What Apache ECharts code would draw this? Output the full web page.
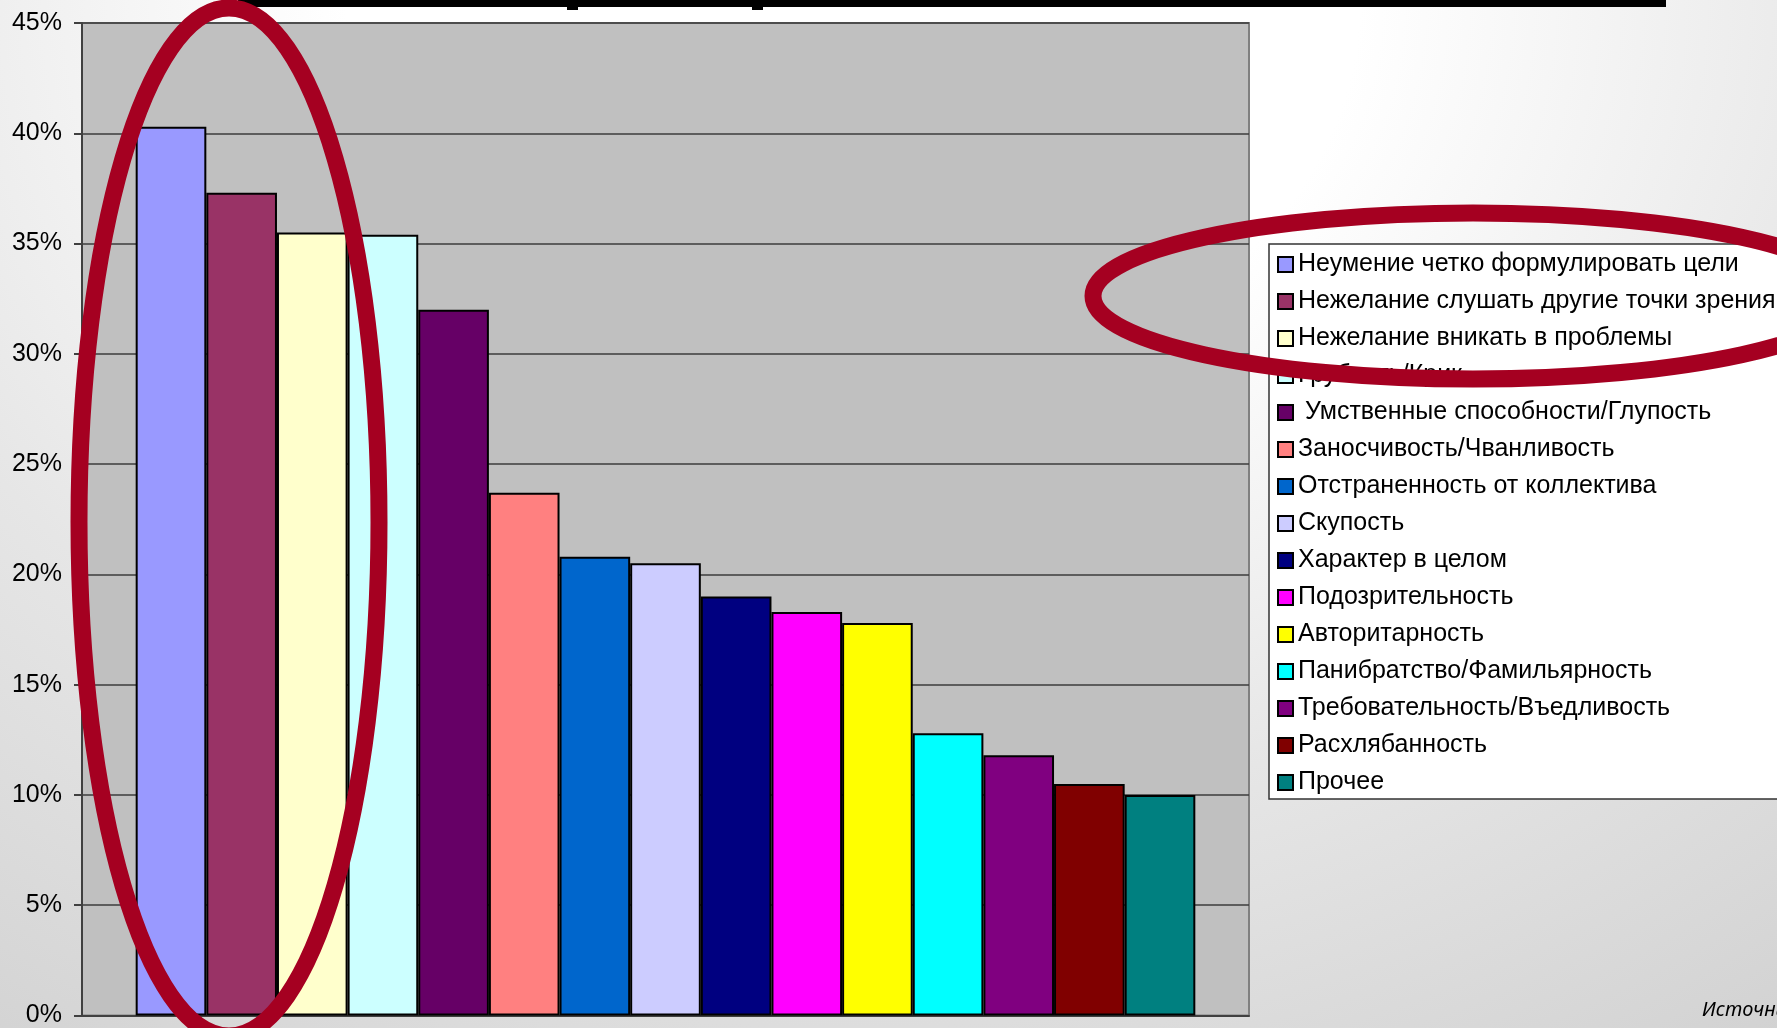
<!DOCTYPE html>
<html>
<head>
<meta charset="utf-8">
<script src="https://cdn.jsdelivr.net/npm/echarts@6/dist/echarts.min.js"></script>
<style>
  html, body { margin: 0; padding: 0; width: 1777px; height: 1028px; overflow: hidden; }
  body { background: radial-gradient(ellipse 95% 130% at 48% 0%, #ffffff 0%, #ffffff 30%, #e6e6e6 62%, #cfcfcf 100%); }
  #chart { width: 1777px; height: 1028px; }
</style>
</head>
<body>
<div id="chart"></div>
<script>
const categories = [
  'Неумение четко формулировать цели',
  'Нежелание слушать другие точки зрения',
  'Нежелание вникать в проблемы',
  'Грубость/Крик',
  ' Умственные способности/Глупость',
  'Заносчивость/Чванливость',
  'Отстраненность от коллектива',
  'Скупость',
  'Характер в целом',
  'Подозрительность',
  'Авторитарность',
  'Панибратство/Фамильярность',
  'Требовательность/Въедливость',
  'Расхлябанность',
  'Прочее'
];
const values = [40.3, 37.3, 35.5, 35.4, 32.0, 23.7, 20.8, 20.5, 19.0, 18.3, 17.8, 12.8, 11.8, 10.5, 10.0];
const colors = ['#9999ff', '#993366', '#ffffcc', '#ccffff', '#660066', '#ff8080', '#0066cc', '#ccccff',
                '#000080', '#ff00ff', '#ffff00', '#00ffff', '#800080', '#800000', '#008080'];
const yMin = 0, yMax = 45, yStep = 5;
const sourceText = 'Источник:';

const chart = echarts.init(document.getElementById('chart'), null, { renderer: 'canvas' });

const series = categories.map((name, i) => ({
  type: 'bar',
  name: name,
  data: [values[i]],
  barGap: '0%',
  barCategoryGap: '9.2%',
  itemStyle: { color: colors[i], borderColor: '#000', borderWidth: 2 },
  emphasis: { disabled: true },
  z: 2
}));

const option = {
  animation: false,
  backgroundColor: 'transparent',
  textStyle: { fontFamily: '"Liberation Sans", Arial, sans-serif' },
  grid: {
    left: 82, top: 23, width: 1167, height: 997,
    show: true, backgroundColor: '#c0c0c0', borderColor: '#808080', borderWidth: 2
  },
  xAxis: {
    type: 'category',
    data: [''],
    axisLine: { show: true, lineStyle: { color: '#404040', width: 2 } },
    axisTick: { show: false },
    axisLabel: { show: false },
    splitLine: { show: false }
  },
  yAxis: {
    type: 'value',
    min: yMin, max: yMax, interval: yStep,
    axisLine: { show: true, lineStyle: { color: '#404040', width: 2 } },
    axisTick: { show: true, inside: false, length: 8, lineStyle: { color: '#404040', width: 2 } },
    axisLabel: { formatter: '{value}%', fontSize: 25, color: '#000', margin: 20, fontFamily: '"Liberation Sans", Arial, sans-serif' },
    splitLine: { show: true, lineStyle: { color: '#3c3c3c', width: 1.5 } }
  },
  legend: {
    orient: 'vertical',
    left: 1269, top: 244,
    padding: [8, 24, 4, 8],
    backgroundColor: '#ffffff',
    borderColor: '#333333', borderWidth: 1.5, borderRadius: 0,
    icon: 'rect',
    itemWidth: 15, itemHeight: 15,
    itemGap: 12,
    selectedMode: false,
    itemStyle: { borderColor: '#000', borderWidth: 2 },
    textStyle: { fontSize: 25, lineHeight: 25, color: '#000', fontFamily: '"Liberation Sans", Arial, sans-serif' },
    data: categories
  },
  graphic: [
    { type: 'rect', z: 50, shape: { x: 238, y: 0, width: 1428, height: 7 }, style: { fill: '#000' } },
    { type: 'rect', z: 50, shape: { x: 567, y: 0, width: 11, height: 10 }, style: { fill: '#000' } },
    { type: 'rect', z: 50, shape: { x: 752, y: 0, width: 11, height: 10 }, style: { fill: '#000' } },
    { type: 'ellipse', z: 100, shape: { cx: 229, cy: 522, rx: 150, ry: 514 },
      style: { fill: 'none', stroke: '#a50021', lineWidth: 17 } },
    { type: 'ellipse', z: 100, shape: { cx: 1473, cy: 296, rx: 380, ry: 83 },
      style: { fill: 'none', stroke: '#a50021', lineWidth: 17 } },
    { type: 'text', z: 50, left: 1702, top: 1000,
      style: { text: sourceText, fill: '#000', font: 'italic 20px "Noto Sans", "Open Sans", sans-serif' } }
  ],
  series: series
};
chart.setOption(option);
</script>
</body>
</html>
